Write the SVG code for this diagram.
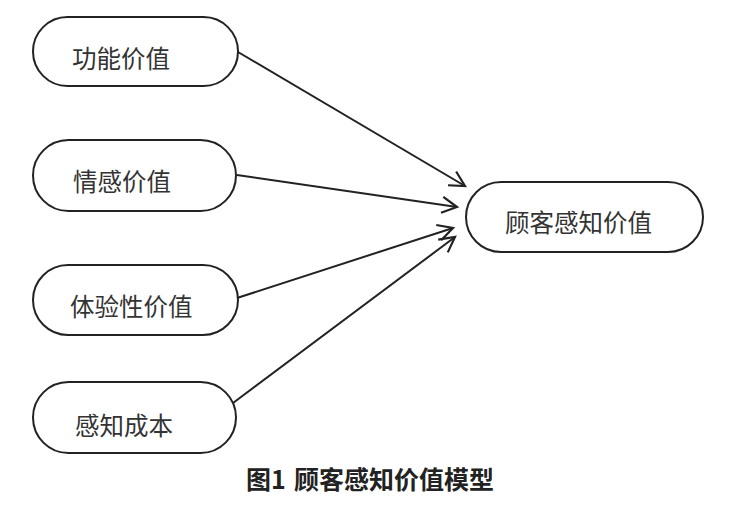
<svg xmlns="http://www.w3.org/2000/svg" width="729" height="505" viewBox="0 0 729 505">
<style>
.node rect{fill:#fff;stroke:#222;stroke-width:2}
.node text,.cap{font-family:"Noto Sans CJK SC","Noto Sans",sans-serif;fill:#333;font-size:24.5px;dominant-baseline:central}
.cap{font-weight:bold;fill:#222;font-size:25px}
.edge{stroke:#222;stroke-width:2;fill:none;marker-end:url(#arr)}
</style>
<defs>
<marker id="arr" markerUnits="userSpaceOnUse" markerWidth="20" markerHeight="20" viewBox="-16 -10 20 20" refX="0" refY="0" orient="auto">
<path d="M-15,-8 L0,0 L-15,8" fill="none" stroke="#222" stroke-width="2.2"/>
</marker>
</defs>
<rect width="729" height="505" fill="#fff"/>
<g id="n1" class="node"><rect x="33" y="17" width="205" height="69" rx="34.5"/><text x="72" y="57">功能价值</text></g>
<g id="n2" class="node"><rect x="33" y="140" width="203" height="71" rx="35.5"/><text x="73" y="180">情感价值</text></g>
<g id="n3" class="node"><rect x="33" y="265" width="205" height="70" rx="35"/><text x="70" y="305">体验性价值</text></g>
<g id="n4" class="node"><rect x="33" y="382" width="203" height="71" rx="35.5"/><text x="75" y="424">感知成本</text></g>
<g id="n5" class="node"><rect x="466" y="182" width="237" height="70" rx="35"/><text x="505" y="221">顾客感知价值</text></g>
<g id="edges">
<line class="edge" x1="238" y1="52" x2="465" y2="186"/>
<line class="edge" x1="237" y1="175" x2="457" y2="207"/>
<line class="edge" x1="237" y1="298" x2="453" y2="228"/>
<line class="edge" x1="233" y1="403" x2="455" y2="237"/>
</g>
<text class="cap" x="246" y="478">图1<tspan x="294">顾客感知价值模型</tspan></text>
</svg>
